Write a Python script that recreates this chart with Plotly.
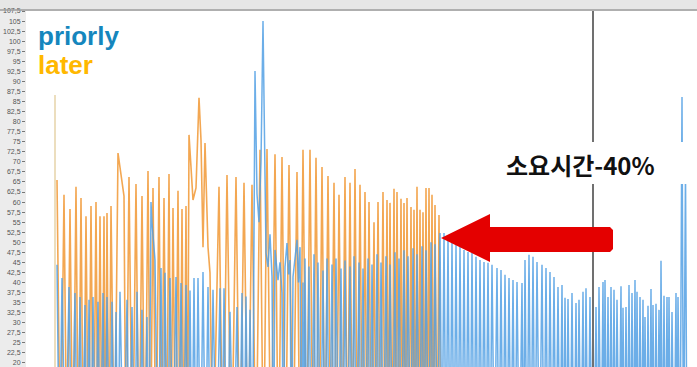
import plotly.graph_objects as go

# ---- data -------------------------------------------------------------
# "later" run: sample time (s) and load value (%), peaks alternating with troughs
later_t = [2, 5.5, 9, 12, 15, 18, 21, 23.5, 26, 28.5, 31, 33.5, 36, 38.5, 41, 43,
           45, 47, 49, 50.5, 52, 54, 56, 59.5, 63, 66, 68, 69, 71, 74, 77.5, 81,
           84, 87, 90, 93, 95.5, 98, 101, 104, 106.5, 109, 111.5, 114, 116, 118,
           120.5, 123, 125, 127, 129, 131, 132.5, 134, 136, 138, 141, 144, 146,
           148, 150, 153, 155, 158, 164, 168, 172, 176.5, 181, 185, 189, 193,
           197, 201, 205, 208.5, 212, 216, 220, 223.5, 227, 230.5, 234, 238, 242,
           245, 248, 251.5, 255, 258, 261, 264, 267, 270, 273, 276, 279, 281.5,
           284, 287, 290, 292.5, 295, 297.5, 300, 302.5, 305, 307.5, 310, 312,
           314, 316.5, 319, 321, 323, 325.5, 328, 330, 332, 333.5, 335, 337, 339,
           340.5, 342, 344, 346, 347.5, 349, 350.5, 352, 354, 356, 357.5, 359,
           360.5, 362, 363.5, 365, 366.5, 368, 369.5, 371, 372.5, 374, 375.5,
           377, 378.5, 380, 382, 384, 386]
later_v = [65.5, -10, 61.8, -10, 58.3, -10, 63.8, -10, 61.0, -10, 56.5, -10, 59.0, -10,
           60.0, -10, 56.5, -10, 56.5, -10, 57.3, -10, 59.0, -10, 72.2, 66.5, 63.0, 61.5,
           -10, 66.2, -10, 64.5, -10, 61.5, -10, 67.7, -10, 63.5, -10, 66.2, -10, 61.0,
           -10, 67.0, -10, 58.5, -10, 62.8, -10, 58.3, -10, 59.0, -10, 76.7, 68.7, 60.5,
           63.5, 85.9, 75.4, 48.8, 74.7, 48.8, 42.4, -10, 63.8, -10, 66.7, -10, 66.2,
           -10, 64.8, -10, 64.3, -10, 73.0, -10, 73.2, -10, 71.9, -10, 71.2, -10, 69.2,
           -10, 67.5, -10, 73.0, -10, 73.0, -10, 71.0, -10, 68.7, -10, 66.5, -10, 64.8,
           -10, 61.8, -10, 66.2, -10, 64.8, -10, 68.2, -10, 64.3, -10, 62.5, -10, 60.0,
           -10, 55.0, -10, 60.0, -10, 62.5, -10, 60.5, -10, 59.8, -10, 63.3, -10, 62.5,
           -10, 60.8, -10, 59.8, -10, 61.0, -10, 58.8, -10, 58.1, -10, 63.8, -10, 58.1,
           -10, 57.5, -10, 63.5, -10, 63.5, -10, 61.8, -10, 59.3, -10, 56.8, -10]

# start-up marker of the "later" run
start_t = [0, 0]
start_v = [86.6, 19]

# "priorly" run
priorly_t = [2, 4.5, 7, 10.5, 14, 17, 20, 22.5, 25, 27.5, 30, 32, 34, 36, 38, 40.5,
             43, 45.5, 48, 50, 52, 54.5, 57, 59, 61, 63, 65, 68.5, 72, 74.5, 77,
             79.5, 82, 84.5, 87, 89.5, 92, 94, 96, 97, 100, 103, 106, 108, 110,
             112.5, 115, 118, 121, 123.5, 126, 128.5, 131, 133, 135, 137, 139, 141,
             143, 145.5, 148, 150.5, 153, 155.5, 158, 161.5, 165, 167, 169, 172,
             175, 178.5, 182, 184.5, 187, 189, 191, 193, 195, 197.5, 200, 202, 204,
             206, 208, 210, 211, 213, 215, 217, 218.5, 220, 222, 223, 225, 227,
             228.5, 230, 232, 233.5, 235, 236.5, 238, 240, 242, 243.5, 245, 246.5,
             248, 249, 250, 252, 254, 256.5, 259, 261, 263, 265.5, 268, 270, 272,
             274.5, 277, 279, 281, 283.5, 286, 288, 290, 292.5, 295, 297, 299,
             301.5, 304, 306, 308, 310.5, 313, 315, 317, 319.5, 322, 324, 326,
             328.5, 331, 333, 335, 337.5, 340, 342, 344, 346.5, 349, 351, 353,
             355.5, 358, 360, 362, 364.5, 367, 369, 371, 373.5, 376, 378, 380,
             382.5, 385, 387, 389, 391, 393, 395, 397, 399, 401, 403, 405, 407,
             409, 411, 413, 415, 417, 419, 421, 423, 425, 427, 429, 431, 433, 435,
             437, 439.5, 442, 444, 446, 448, 450, 452, 454, 456, 458, 460, 462,
             464.5, 467, 468.5, 470, 472, 474, 476, 478, 480, 482, 484.5, 487, 489,
             491, 493, 495, 497, 499, 501, 503, 505, 507, 508.5, 510, 511.5, 513,
             515, 517, 519, 521, 522.5, 524, 526, 528, 529.5, 531, 533, 535, 536.5,
             538, 539.5, 541, 542.5, 544, 546, 548, 549, 550, 551.5, 553, 554.5,
             556, 557.5, 559, 560.5, 562, 564, 566, 567, 568, 569.5, 571, 572.5,
             574, 575.5, 577, 578.5, 580, 581, 582, 583.5, 585, 586.5, 588, 589,
             590, 591.5, 593, 594.5, 596, 597, 598, 599.5, 601, 602.5, 604, 605,
             606, 607.5, 609, 610.5, 612, 613, 614, 615.5, 617, 619, 621, 622, 623,
             625, 627, 628.5, 630.5, 632]
priorly_v = [44.4, -10, 41.1, -10, 38.9, -10, 37.4, -10, 36.4, -10, 34.4, -10, 35.7, -10,
             36.4, -10, 35.2, -10, 37.4, -10, 36.4, -10, 35.2, -10, 32.7, -10, 37.7, -10,
             35.7, -10, 33.9, -10, 37.7, -10, 33.2, -10, 31.4, -10, 60.0, 54.8, 45.6, -10,
             43.6, -10, 42.4, -10, 41.1, -10, 41.4, -10, 39.9, -10, 39.4, -10, 38.0, -10,
             41.1, -10, 41.1, -10, 42.6, -10, 38.9, -10, 38.2, -10, 38.6, -10, 38.6, -10,
             32.7, -10, 33.9, -10, 37.4, -10, 36.5, -10, 33.2, -10, 92.6, 62.0, 55.0,
             70.0, 105.0, 60.0, 47.4, 43.9, 52.0, 41.4, -10, 48.1, 44.0, 40.6, 45.0, 37.4,
             -10, 43.9, 49.8, 42.0, 45.6, -10, 41.4, 46.0, 50.6, 40.0, 48.8, -10,
             40.0, -10, 46.0, -10, 44.0, -10, 47.0, -10, 45.0, -10, 43.0, -10, 46.0,
             -10, 44.5, -10, 46.0, -10, 43.5, -10, 45.5, -10, 44.0, -10, 46.5,
             -10, 45.0, -10, 43.5, -10, 46.0, -10, 44.5, -10, 47.0, -10, 45.0,
             -10, 46.5, -10, 44.5, -10, 47.5, -10, 46.0, -10, 48.0, -10, 46.5,
             -10, 48.5, -10, 47.0, -10, 49.0, -10, 48.0, -10, 50.0, -10, 49.5,
             -10, 52.3, -10, 52.3, -10, 51.1, -10, 50.1, -10, 49.3, -10, 48.8, -10,
             48.1, -10, 47.6, -10, 47.4, -10, 46.4, -10, 45.6, -10, 45.1, -10, 44.9, -10,
             44.4, -10, 43.6, -10, 43.1, -10, 41.9, -10, 41.1, -10, 40.6, -10, 40.1,
             -10, 39.9, -10, 45.6, -10, 46.9, -10, 46.4, -10, 45.1, -10, 44.4, -10,
             43.6, -10, 42.6, -10, 41.4, -10, 38.9, -10, 39.4, -10, 36.2, -10, 35.9,
             -10, 37.4, -10, 34.9, -10, 35.7, -10, 37.7, -10, 38.6, -10, 36.4, -10,
             33.9, -10, 33.9, -10, 38.9, -10, 40.1, -10, 40.6, -10, 36.4, -10,
             38.9, -10, 38.2, -10, 35.7, -10, 39.1, -10, 33.7, -10, 33.9, -10,
             39.4, -10, 37.4, -10, 40.6, -10, 37.7, -10, 36.4, -10, 35.7, -10,
             31.4, -10, 34.2, -10, 38.4, -10, 34.4, -10, 34.7, -10, 33.2, -10,
             45.4, -10, 36.7, -10, 36.4, -10, 36.4, -10, 32.7, -10, 37.4, -10, 36.4,
             -10, 86.1, -10, 68.0, -10]

# time cursor (s)
cursor_t = 538

# y axis ticks, decimal comma
tick_vals = [20, 22.5, 25, 27.5, 30, 32.5, 35, 37.5, 40, 42.5, 45, 47.5, 50, 52.5,
             55, 57.5, 60, 62.5, 65, 67.5, 70, 72.5, 75, 77.5, 80, 82.5, 85, 87.5,
             90, 92.5, 95, 97.5, 100, 102.5, 105, 107.5]
tick_text = ["20", "22,5", "25", "27,5", "30", "32,5", "35", "37,5", "40", "42,5",
             "45", "47,5", "50", "52,5", "55", "57,5", "60", "62,5", "65", "67,5",
             "70", "72,5", "75", "77,5", "80", "82,5", "85", "87,5", "90", "92,5",
             "95", "97,5", "100", "102,5", "105", "107,5"]

# ---- layout geometry ----------------------------------------------------
W, H = 697, 367
ML, MR, MT, MB = 26, 0, 11, 0
PW, PH = W - ML - MR, H - MT - MB


def px(x):
    return (x - ML) / PW


def py(y):
    return 1 - (y - MT) / PH


fig = go.Figure()

fig.add_trace(go.Scatter(x=later_t, y=later_v, mode="lines", name="later",
                         line=dict(color="rgba(241,152,52,0.85)", width=1.6),
                         hoverinfo="skip"))
fig.add_trace(go.Scatter(x=start_t, y=start_v, mode="lines", name="start",
                         line=dict(color="rgb(236,222,190)", width=2),
                         hoverinfo="skip"))
fig.add_trace(go.Scatter(x=priorly_t, y=priorly_v, mode="lines", name="priorly",
                         line=dict(color="rgba(82,160,228,0.85)", width=1.5),
                         hoverinfo="skip"))

arrow = (f"M {px(441)},{py(238)} L {px(490)},{py(214)} L {px(490)},{py(227)} "
         f"L {px(610)},{py(227)} L {px(613)},{py(230)} L {px(613)},{py(249)} "
         f"L {px(610)},{py(252)} L {px(490)},{py(252)} L {px(490)},{py(262)} Z")

shapes = [
    # left label panel
    dict(type="rect", xref="paper", yref="paper", x0=px(0), x1=0, y0=py(H + 2), y1=1,
         fillcolor="#ececec", line_width=0, layer="below"),
    # top bar
    dict(type="rect", xref="paper", yref="paper", x0=px(0), x1=1, y0=1, y1=py(0),
         fillcolor="#e6e6e6", line_width=0, layer="below"),
    dict(type="line", xref="paper", yref="paper", x0=px(0), x1=1, y0=py(10), y1=py(10),
         line=dict(color="#9c9c9c", width=1.5)),
    # time cursor
    dict(type="line", xref="x", yref="paper", x0=cursor_t, x1=cursor_t, y0=0, y1=1,
         line=dict(color="#707070", width=2)),
    # white box under the caption
    dict(type="rect", xref="paper", yref="paper", x0=px(470), x1=px(690),
         y0=py(184), y1=py(142), fillcolor="white", line_width=0),
    # red arrow
    dict(type="path", xref="paper", yref="paper", path=arrow,
         fillcolor="#e40000", line=dict(color="#e40000", width=0)),
]

annotations = [
    dict(text="<b>priorly</b>", xref="paper", yref="paper", x=px(36), y=py(36),
         xanchor="left", yanchor="middle", showarrow=False,
         font=dict(family="Liberation Sans", size=26, color="#1586bd")),
    dict(text="<b>later</b>", xref="paper", yref="paper", x=px(36), y=py(65),
         xanchor="left", yanchor="middle", showarrow=False,
         font=dict(family="Liberation Sans", size=26, color="#ffb800")),
    dict(text="<b>소요시간-40%</b>", xref="paper", yref="paper", x=px(580), y=py(164),
         xanchor="center", yanchor="middle", showarrow=False,
         font=dict(family="Noto Sans CJK KR", size=24, color="#111111")),
]

fig.update_layout(
    width=W, height=H,
    margin=dict(l=ML, r=MR, t=MT, b=MB, pad=0),
    paper_bgcolor="white", plot_bgcolor="white",
    showlegend=False,
    shapes=shapes, annotations=annotations,
    xaxis=dict(range=[-29, 642], visible=False, fixedrange=True),
    yaxis=dict(range=[19.0, 107.5], tickvals=tick_vals, ticktext=tick_text,
               showgrid=False, zeroline=False, showline=False,
               ticks="outside", ticklen=3, tickcolor="#777",
               tickfont=dict(family="Liberation Sans", size=7, color="#555"),
               fixedrange=True),
)

fig.write_html("out.html")
